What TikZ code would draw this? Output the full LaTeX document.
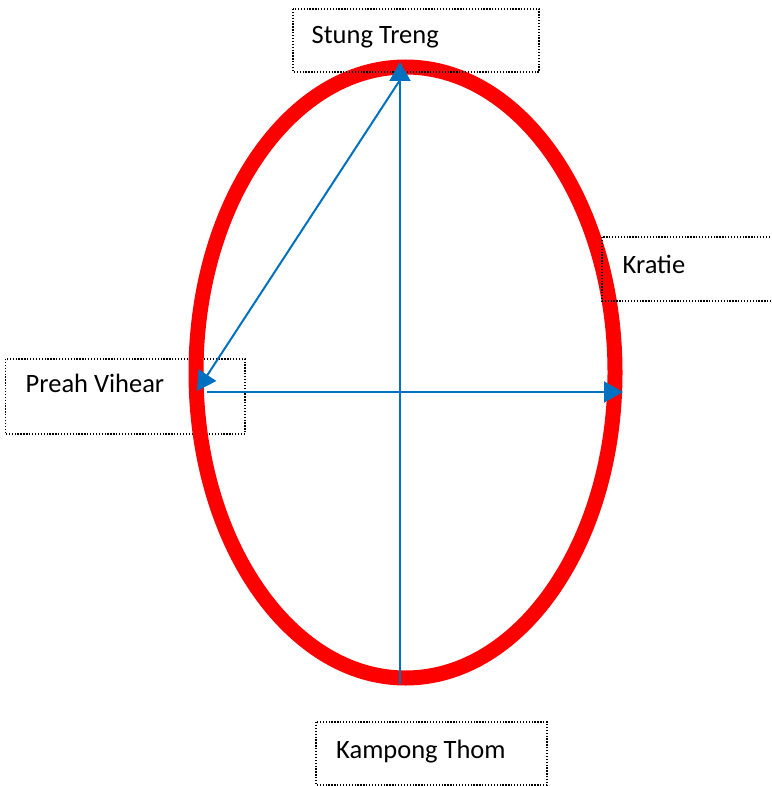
\documentclass[tikz,border=0pt]{standalone}
\usepackage{fontspec}
\setmainfont{Carlito}
\usetikzlibrary{arrows.meta}
\definecolor{ringred}{HTML}{FF0000}
\definecolor{arrowblue}{HTML}{0070C0}
\tikzset{
  dotbox/.style={draw=black, line width=1.3pt, dash pattern=on 1.3pt off 1.6pt},
  lbl/.style={anchor=base west, inner sep=0pt, font=\fontsize{26.5}{30}\selectfont, text=black},
  ring/.style={draw=ringred, line width=15pt},
  conn/.style={draw=arrowblue, line width=2pt, -{Triangle[length=19pt, width=21pt]}}
}
\begin{document}
\begin{tikzpicture}[x=1pt, y=-1pt]
\useasboundingbox (0,0) rectangle (771,786);
% Preah Vihear box (below the ring)
\draw[dotbox] (5.5,359) rectangle (245,434);
\node[lbl] (pv) at (25.5,392) {Preah Vihear};
% ring
\draw[ring] (405.5,372.5) ellipse [x radius=209.5, y radius=305.5];
% other boxes
\draw[dotbox] (293,9) rectangle (539,72);
\node[lbl] (st) at (311.5,44) {Stung Treng};
\draw[dotbox] (602,237) rectangle (780,301);
\node[lbl] (kr) at (622.5,273) {Kratie};
\draw[dotbox] (316,722) rectangle (547,785);
\node[lbl] (kt) at (336,758) {Kampong Thom};
% connector points
\coordinate (bottom) at (400,684);
\coordinate (top) at (400,62);
\coordinate (apex) at (400,80);
\coordinate (left) at (197,391);
\coordinate (hstart) at (207,392);
\coordinate (right) at (623,392);
\draw[conn] (bottom) -- (top);
\draw[conn] (hstart) -- (right);
\draw[conn] (apex) -- (left);
\end{tikzpicture}
\end{document}
